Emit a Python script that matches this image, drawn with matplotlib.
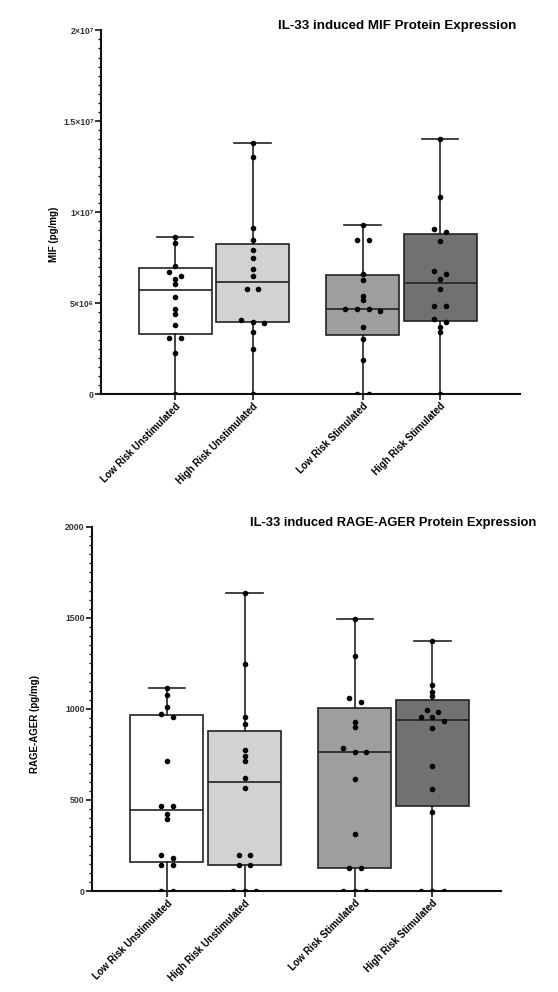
import matplotlib
matplotlib.use("Agg")
import matplotlib.pyplot as plt
import numpy as np
from matplotlib.ticker import MultipleLocator, FixedLocator

plt.rcParams['font.family'] = ['Liberation Sans', 'DejaVu Sans']

groups = ['Low Risk Unstimulated', 'High Risk Unstimulated',
          'Low Risk Stimulated', 'High Risk Stimulated']
box_colors = ['#ffffff', '#d2d2d2', '#9e9e9e', '#717171']
positions = [0, 1, 2.42, 3.42]

# MIF (pg/mg), box summary: min, q1, median, q3, max
mif_min = [0, 0, 0, 0]
mif_q1 = [3.30e6, 3.96e6, 3.24e6, 4.04e6]
mif_med = [5.73e6, 6.15e6, 4.70e6, 6.10e6]
mif_q3 = [6.96e6, 8.27e6, 6.54e6, 8.79e6]
mif_max = [8.63e6, 13.82e6, 9.30e6, 14.04e6]

mif_lr_unstim = [8.63e6, 8.30e6, 7.05e6, 6.74e6, 6.52e6, 6.34e6, 6.08e6, 5.36e6,
                 4.69e6, 4.41e6, 3.81e6, 3.08e6, 3.08e6, 2.25e6, 0]
mif_hr_unstim = [13.82e6, 13.05e6, 9.15e6, 8.48e6, 7.91e6, 7.49e6, 6.88e6, 6.52e6,
                 5.77e6, 5.77e6, 4.07e6, 3.99e6, 3.93e6, 3.44e6, 2.51e6, 0]
mif_lr_stim = [9.30e6, 8.48e6, 8.48e6, 6.61e6, 6.28e6, 5.42e6, 5.18e6, 4.70e6,
               4.70e6, 4.70e6, 4.58e6, 3.68e6, 3.05e6, 1.88e6, 0, 0]
mif_hr_stim = [14.04e6, 10.86e6, 9.10e6, 8.90e6, 8.42e6, 6.79e6, 6.63e6, 6.35e6,
               5.80e6, 4.87e6, 4.87e6, 4.14e6, 3.99e6, 3.71e6, 3.41e6, 0]

# RAGE-AGER (pg/mg)
rage_min = [0, 0, 0, 0]
rage_q1 = [158, 143, 126, 465]
rage_med = [445, 599, 762, 940]
rage_q3 = [965, 877, 1007, 1049]
rage_max = [1115, 1636, 1493, 1375]

rage_lr_unstim = [1115, 1079, 1013, 973, 954, 713, 467, 467, 423, 397,
                  200, 183, 145, 145, 0, 0]
rage_hr_unstim = [1636, 1247, 954, 918, 776, 743, 714, 623, 568,
                  196, 196, 143, 143, 0, 0, 0]
rage_lr_stim = [1493, 1293, 1062, 1040, 930, 903, 784, 762, 762, 617, 311,
                125, 125, 0, 0, 0]
rage_hr_stim = [1375, 1130, 1095, 1071, 995, 985, 954, 954, 934, 894, 685,
                560, 432, 0, 0, 0]

mif_points = [mif_lr_unstim, mif_hr_unstim, mif_lr_stim, mif_hr_stim]
rage_points = [rage_lr_unstim, rage_hr_unstim, rage_lr_stim, rage_hr_stim]

mif_ticks = [0, 5e6, 1e7, 1.5e7, 2e7]
mif_ticklabels = ['0', '5×10⁶', '1×10⁷', '1.5×10⁷', '2×10⁷']
rage_ticks = [0, 500, 1000, 1500, 2000]
rage_ticklabels = ['0', '500', '1000', '1500', '2000']

edge = '#222222'


def spread(vals, tol, step=0.15):
    # push values that sit on top of each other sideways
    vals = np.asarray(vals, dtype=float)
    offs = np.zeros(len(vals))
    used = np.zeros(len(vals), dtype=bool)
    for i in range(len(vals)):
        if used[i]:
            continue
        idx = [j for j in range(len(vals)) if not used[j] and abs(vals[j] - vals[i]) < tol]
        n = len(idx)
        for k, j in enumerate(idx):
            offs[j] = (k - (n - 1) / 2) * step
            used[j] = True
    return offs


def draw_panel(ax, mins, q1s, meds, q3s, maxs, points, ymax, ticks, ticklabels,
               ylabel, title, title_x, title_size):
    stats = []
    for i in range(len(groups)):
        stats.append({'whislo': mins[i], 'q1': q1s[i], 'med': meds[i],
                      'q3': q3s[i], 'whishi': maxs[i], 'fliers': []})
    bp = ax.bxp(stats, positions=positions, widths=0.94, patch_artist=True,
                showfliers=False,
                boxprops=dict(edgecolor=edge, linewidth=1.2),
                medianprops=dict(color=edge, linewidth=1.2),
                whiskerprops=dict(color=edge, linewidth=1.2),
                capprops=dict(color=edge, linewidth=1.2),
                capwidths=0.47)
    for patch, c in zip(bp['boxes'], box_colors):
        patch.set_facecolor(c)

    for pos, vals in zip(positions, points):
        offs = spread(vals, ymax / 90)
        ax.plot(pos + offs, vals, 'o', color='black', ms=3.0, zorder=5,
                linestyle='none')

    ax.set_ylim(0, ymax)
    ax.set_xticks(positions)
    ax.set_xticklabels(groups, rotation=45, ha='right', rotation_mode='anchor',
                       fontsize=7, fontweight='bold')
    ax.yaxis.set_major_locator(FixedLocator(ticks))
    ax.set_yticklabels(ticklabels, fontsize=6.3, fontweight='bold', color='#333333')
    ax.yaxis.set_minor_locator(MultipleLocator(ticks[1] / 10))
    ax.tick_params(axis='y', which='major', length=4, width=1.1, pad=1)
    ax.tick_params(axis='y', which='minor', length=2.2, width=0.9)
    ax.tick_params(axis='x', length=4, width=1.1, pad=1)

    for s in ['top', 'right']:
        ax.spines[s].set_visible(False)
    for s in ['left', 'bottom']:
        ax.spines[s].set_linewidth(1.5)
        ax.spines[s].set_color('#111111')

    ax.set_ylabel(ylabel, fontsize=7, fontweight='bold')
    ax.yaxis.label.set_va('center')
    ax.text(title_x, 1.012, title, transform=ax.transAxes, ha='center',
            va='center', fontsize=title_size, fontweight='bold')


fig = plt.figure(figsize=(5.58, 9.92), dpi=100)

ax1 = fig.add_axes([0.1805, 0.6025, 0.7515, 0.367])
ax1.set_xlim(-0.96, 4.45)
draw_panel(ax1, mif_min, mif_q1, mif_med, mif_q3, mif_max, mif_points,
           2e7, mif_ticks, mif_ticklabels, 'MIF (pg/mg)',
           'IL-33 induced MIF Protein Expression', 0.707, 9.6)
ax1.yaxis.set_label_coords(-0.112, 0.44)

ax2 = fig.add_axes([0.1643, 0.1018, 0.733, 0.367])
ax2.set_xlim(-0.97, 4.30)
draw_panel(ax2, rage_min, rage_q1, rage_med, rage_q3, rage_max, rage_points,
           2000, rage_ticks, rage_ticklabels, 'RAGE-AGER (pg/mg)',
           'IL-33 induced RAGE-AGER Protein Expression', 0.737, 9.3)
ax2.yaxis.set_label_coords(-0.139, 0.46)

fig.savefig('out.png', dpi=100)
